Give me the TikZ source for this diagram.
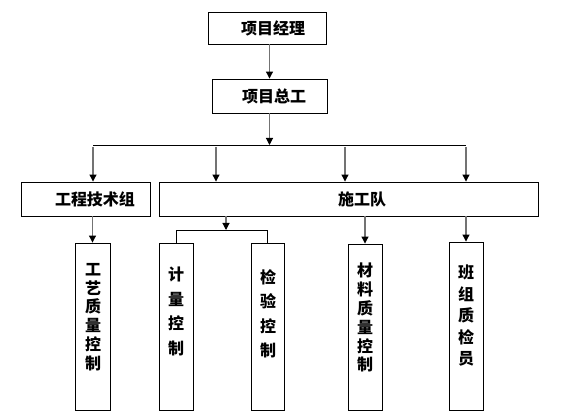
\documentclass[tikz,border=0pt]{standalone}
\usepackage{fontspec}
\newfontfamily\cjk{Noto Sans CJK SC}
\usetikzlibrary{arrows.meta}
\tikzset{
  box/.style={draw=black, line width=0.9pt, inner sep=0pt, anchor=center},
  lbl/.style={font=\cjk\bfseries\fontsize{16}{16}\selectfont, inner sep=0pt},
  vlbl/.style={font=\cjk\bfseries\fontsize{16}{#1}\selectfont, align=center, inner sep=0pt, anchor=north},
  arr/.style={draw=black!55, line width=1.1pt, -{Triangle[length=7pt,width=7pt,color=black]}},
  ln/.style={draw=black, line width=0.9pt},
}
\begin{document}
\begin{tikzpicture}[x=1pt,y=-1pt]
\useasboundingbox (0,0) rectangle (563,414);
% top boxes
\node[box, minimum width=118pt, minimum height=32pt] (jl) at (267,28) {};
\node[lbl] (jlt) at (273,28) {项目经理};
\node[box, minimum width=115pt, minimum height=34pt] (zg) at (269.5,96) {};
\node[lbl] (zgt) at (274,96) {项目总工};
% second row
\node[box, minimum width=129pt, minimum height=34pt] (js) at (85.5,199) {};
\node[lbl] (jst) at (95,199) {工程技术组};
\node[box, minimum width=379pt, minimum height=34pt] (sg) at (348.5,199) {};
\node[lbl] (sgt) at (362,199) {施工队};
% bottom boxes
\node[box, minimum width=35pt, minimum height=167pt] (gy) at (92.5,326.5) {};
\node[vlbl=18.8pt] (gyt) at (93,263) {工\\艺\\质\\量\\控\\制};
\node[box, minimum width=34pt, minimum height=167pt] (jc) at (176,326.5) {};
\node[vlbl=24.5pt] (jct) at (176,267) {计\\量\\控\\制};
\node[box, minimum width=33pt, minimum height=167pt] (jy) at (267.5,326.5) {};
\node[vlbl=24.5pt] (jyt) at (268,269) {检\\验\\控\\制};
\node[box, minimum width=34pt, minimum height=166pt] (cl) at (365,327) {};
\node[vlbl=18.8pt] (clt) at (365,263) {材\\料\\质\\量\\控\\制};
\node[box, minimum width=34pt, minimum height=168pt] (bz) at (466,326) {};
\node[vlbl=21.5pt] (bzt) at (466,265) {班\\组\\质\\检\\员};
% connectors
\coordinate (hl) at (93,145);
\coordinate (hr) at (466,145);
\coordinate (hm) at (269.5,145);
\draw[arr] (jl.south -| zg.north) -- (zg.north);
\draw[arr] (zg.south) -- (hm);
\draw[ln] (hl) -- (hr);
\coordinate (d1) at (93,147);
\coordinate (d2) at (216,147);
\coordinate (d3) at (345,147);
\coordinate (d4) at (466,147);
\draw[arr] (d1) -- (d1 |- js.north);
\draw[arr] (d2) -- (d2 |- sg.north);
\draw[arr] (d3) -- (d3 |- sg.north);
\draw[arr] (d4) -- (d4 |- sg.north);
\draw[arr] (js.south -| gy.north) -- (gy.north);
\coordinate (bl) at (176,230);
\coordinate (br) at (267.5,230);
\coordinate (bm) at (226,230);
\draw[arr] (sg.south -| bm) -- (bm);
\draw[ln] (jc.north) -- (bl) -- (br) -- (jy.north);
\draw[arr] (sg.south -| cl.north) -- (cl.north);
\draw[arr] (sg.south -| bz.north) -- (bz.north);
\end{tikzpicture}
\end{document}
